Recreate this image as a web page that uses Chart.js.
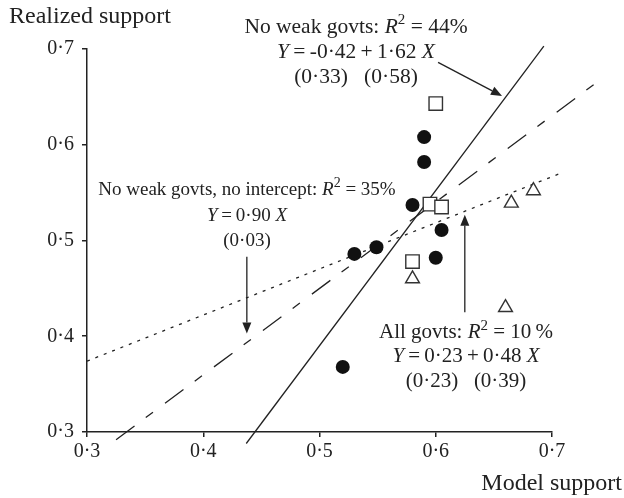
<!DOCTYPE html>
<html>
<head>
<meta charset="utf-8">
<script src="https://cdn.jsdelivr.net/npm/chart.js@4"></script>
<style>
  html, body { margin: 0; padding: 0; background: #fff; }
  #wrap { width: 624px; height: 498px; }
</style>
</head>
<body>
<div id="wrap"><canvas id="c"></canvas></div>
<script>
// data
const allGovts = [[0.590, 0.608], [0.590, 0.582], [0.580, 0.537], [0.605, 0.511], [0.600, 0.482],
                  [0.530, 0.486], [0.549, 0.493], [0.520, 0.368]];
const squares = [[0.600, 0.643], [0.595, 0.538], [0.605, 0.535], [0.580, 0.478]];
const triangles = [[0.580, 0.460], [0.665, 0.539], [0.684, 0.552], [0.660, 0.430]];

// fitted lines, end points
const fitNoWeak = [[0.437, 0.288], [0.693, 0.703]];      // Y = -0.42 + 1.62X
const fitNoIntercept = [[0.325, 0.292], [0.745, 0.671]]; // Y = 0.90X
const fitAll = [[0.300, 0.374], [0.707, 0.570]];         // Y = 0.23 + 0.48X

const xTicks = [0.3, 0.4, 0.5, 0.6, 0.7];
const yTicks = [0.3, 0.4, 0.5, 0.6, 0.7];

const FONT = 'Liberation Serif';
const INK = '#222';
const TS = '\u2009'; // thin space

const pts = arr => arr.map(p => ({x: p[0], y: p[1]}));
const fmt = v => v.toFixed(1).replace('.', '\u00b7');

// annotation text, [text, style] parts: '' normal, 'i' italic, 's' superscript
const notes = [
    {x: 356, size: 21.5, y: [33, 58, 83], lines: [
        [['No weak govts: ', ''], ['R', 'i'], ['2', 's'], [' = 44%', '']],
        [['Y', 'i'], [TS + '=' + TS + '-0\u00b742' + TS + '+' + TS + '1\u00b762 ', ''], ['X', 'i']],
        [['(0\u00b733)   (0\u00b758)', '']],
    ]},
    {x: 247, size: 19, y: [195, 221, 246], lines: [
        [['No weak govts, no intercept: ', ''], ['R', 'i'], ['2', 's'], [' = 35%', '']],
        [['Y', 'i'], [TS + '=' + TS + '0\u00b790 ', ''], ['X', 'i']],
        [['(0\u00b703)', '']],
    ]},
    {x: 466, size: 21, y: [338, 362, 387], lines: [
        [['All govts: ', ''], ['R', 'i'], ['2', 's'], [' = 10\u2009%', '']],
        [['Y', 'i'], [TS + '=' + TS + '0\u00b723' + TS + '+' + TS + '0\u00b748 ', ''], ['X', 'i']],
        [['(0\u00b723)   (0\u00b739)', '']],
    ]},
];

// arrows in data units: from -> tip
const arrows = [
    [[0.602, 0.686], [0.657, 0.651]],
    [[0.4375, 0.483], [0.4375, 0.403]],
    [[0.625, 0.425], [0.625, 0.527]],
];

function partFont(style, size) {
    if (style === 'i') return 'italic ' + size + 'px ' + FONT;
    if (style === 's') return Math.round(size * 0.72) + 'px ' + FONT;
    return size + 'px ' + FONT;
}

function drawRich(ctx, parts, cx, y, size) {
    let w = 0;
    parts.forEach(p => { ctx.font = partFont(p[1], size); w += ctx.measureText(p[0]).width; });
    let x = cx - w / 2;
    parts.forEach(p => {
        ctx.font = partFont(p[1], size);
        ctx.fillText(p[0], x, p[1] === 's' ? y - size * 0.4 : y);
        x += ctx.measureText(p[0]).width;
    });
}

function drawArrow(ctx, x1, y1, x2, y2) {
    const a = Math.atan2(y2 - y1, x2 - x1);
    const len = 11, half = 4.5;
    ctx.beginPath();
    ctx.moveTo(x1, y1);
    ctx.lineTo(x2 - Math.cos(a) * len, y2 - Math.sin(a) * len);
    ctx.stroke();
    ctx.beginPath();
    ctx.moveTo(x2, y2);
    ctx.lineTo(x2 - Math.cos(a) * len - Math.sin(a) * half, y2 - Math.sin(a) * len + Math.cos(a) * half);
    ctx.lineTo(x2 - Math.cos(a) * len + Math.sin(a) * half, y2 - Math.sin(a) * len - Math.cos(a) * half);
    ctx.closePath();
    ctx.fill();
}

const notesPlugin = {
    id: 'notes',
    afterDraw(chart) {
        const ctx = chart.ctx;
        const xs = chart.scales.x, ys = chart.scales.y;
        ctx.save();
        ctx.fillStyle = INK;
        ctx.strokeStyle = INK;
        ctx.lineWidth = 1.3;
        ctx.textBaseline = 'alphabetic';
        ctx.textAlign = 'left';
        notes.forEach(n => n.lines.forEach((ln, i) => drawRich(ctx, ln, n.x, n.y[i], n.size)));
        arrows.forEach(a => drawArrow(ctx,
            xs.getPixelForValue(a[0][0]), ys.getPixelForValue(a[0][1]),
            xs.getPixelForValue(a[1][0]), ys.getPixelForValue(a[1][1])));
        // axis titles
        ctx.font = '24px ' + FONT;
        ctx.fillText('Realized support', 9, 23);
        ctx.textAlign = 'right';
        ctx.fillText('Model support', 622, 490);
        ctx.restore();
    }
};

const lineDs = (data, dash) => ({
    data: pts(data), showLine: true, pointRadius: 0, borderColor: INK,
    borderWidth: 1.3, borderDash: dash, clip: false, order: 2,
});

new Chart(document.getElementById('c'), {
    type: 'scatter',
    data: {
        datasets: [
            lineDs(fitNoWeak, []),
            lineDs(fitNoIntercept, [23, 14, 9, 15]),
            lineDs(fitAll, [3, 6]),
            {data: pts(allGovts), pointStyle: 'circle', pointRadius: 7, backgroundColor: '#111',
             borderColor: '#111', borderWidth: 0, clip: false, order: 1},
            {data: pts(squares), pointStyle: 'rect', pointRadius: 9.5, backgroundColor: '#fff',
             borderColor: '#333', borderWidth: 1.4, clip: false, order: 1},
            {data: pts(triangles), pointStyle: 'triangle', pointRadius: 8, backgroundColor: '#fff',
             borderColor: '#333', borderWidth: 1.4, clip: false, order: 1},
        ],
    },
    options: {
        responsive: true,
        maintainAspectRatio: false,
        animation: false,
        events: [],
        layout: {padding: {top: 49, right: 72, left: 0, bottom: 0}},
        plugins: {legend: {display: false}, tooltip: {enabled: false}},
        scales: {
            x: {
                type: 'linear', min: 0.3, max: 0.7,
                afterBuildTicks: s => { s.ticks = xTicks.map(v => ({value: v})); },
                afterFit: s => { s.height = 66; },
                ticks: {callback: fmt, color: INK, font: {family: FONT, size: 20}, padding: 3, maxRotation: 0},
                grid: {drawOnChartArea: false, drawTicks: true, tickLength: 5, color: INK, lineWidth: 1.5},
                border: {color: INK, width: 1.5},
            },
            y: {
                type: 'linear', min: 0.3, max: 0.7,
                afterBuildTicks: s => { s.ticks = yTicks.map(v => ({value: v})); },
                afterFit: s => { s.width = 87; },
                ticks: {callback: fmt, color: INK, font: {family: FONT, size: 20}, padding: 8},
                grid: {drawOnChartArea: false, drawTicks: true, tickLength: 5, color: INK, lineWidth: 1.5},
                border: {color: INK, width: 1.5},
            },
        },
    },
    plugins: [notesPlugin],
});
</script>
</body>
</html>
